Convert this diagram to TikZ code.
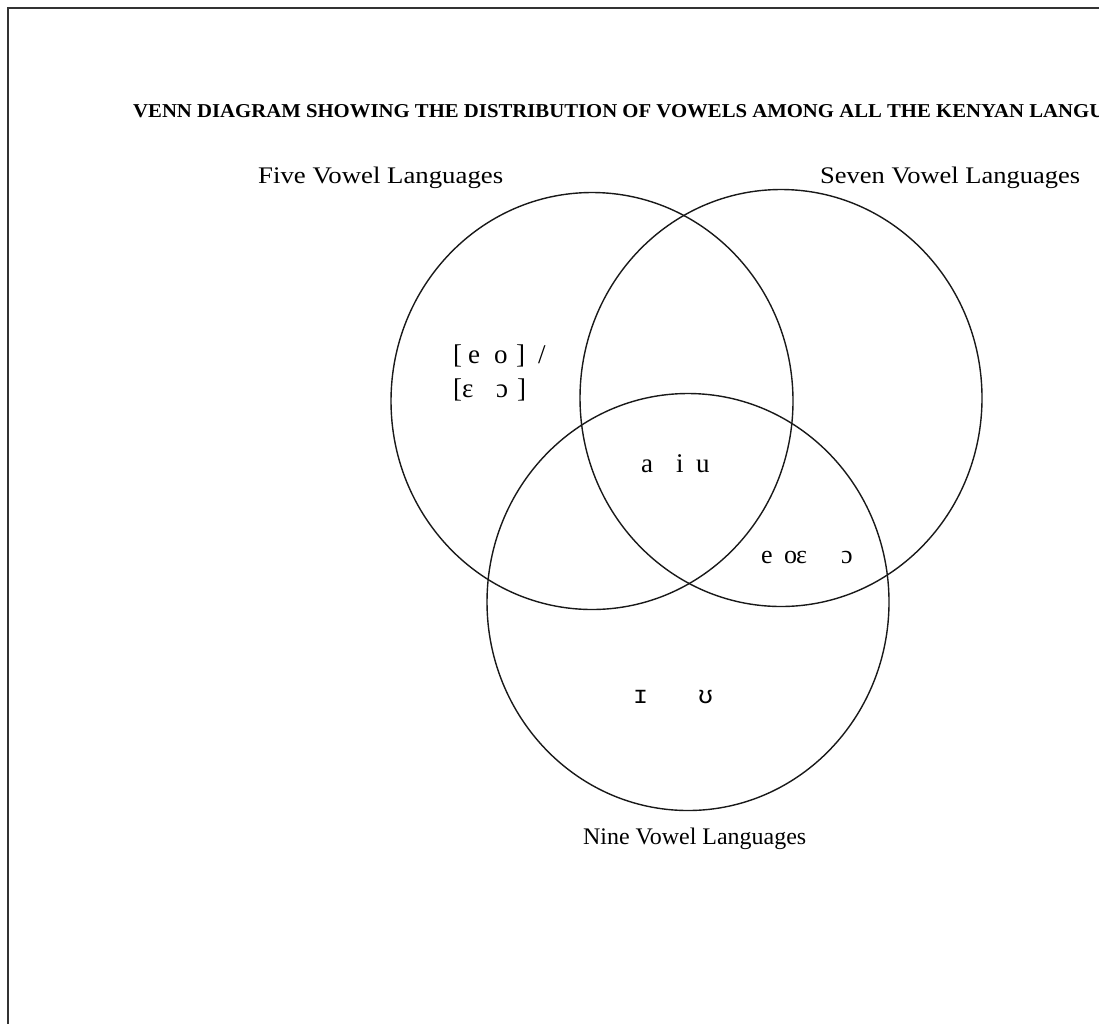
\documentclass[tikz,border=0pt]{standalone}
\usepackage{fontspec}
\setmainfont{Liberation Serif}
\newfontfamily\ipamono{Liberation Mono}
\usetikzlibrary{shapes.geometric}
\newcommand\gl[2]{\makebox[0pt][l]{\hspace{#1pt}#2}}
\begin{document}
\begin{tikzpicture}[x=1pt,y=-1pt,
  setc/.style={ellipse, draw=black!90, line width=1.4pt, inner sep=0pt,
               minimum width=402pt, minimum height=417pt},
  frame/.style={draw=black!80, line width=1.5pt},
  lbl/.style={anchor=base west, inner sep=0pt, text=black},
  ipa/.style={anchor=base west, inner sep=0pt, font=\fontsize{27pt}{29pt}\selectfont}]
\useasboundingbox (0,0) rectangle (1099,1023);
\clip (0,0) rectangle (1099,1023);
\fill[white] (0,0) rectangle (1099,1023);
\draw[frame] (8,1040) -- (8,8) -- (1120,8);

\node[lbl] (title) at (133,117)
  {\resizebox{971pt}{13pt}{\bfseries VENN DIAGRAM SHOWING THE DISTRIBUTION OF VOWELS AMONG ALL THE KENYAN LANGU}};

\node[setc] (five)  at (592,401) {};
\node[setc] (seven) at (781,398) {};
\node[setc] (nine)  at (688,602) {};

\node[lbl] (fiveL)  at (258,183) {\resizebox{245pt}{16.5pt}{Five Vowel Languages}};
\node[lbl] (sevenL) at (820,183) {\resizebox{260pt}{16.5pt}{Seven Vowel Languages}};
\node[lbl] (nineL)  at (583,844) {\resizebox{223pt}{16.5pt}{Nine Vowel Languages}};

\node[ipa] (fiveA) at (453,363) {\gl{0}{[}\gl{15}{e}\gl{41}{o}\gl{63}{]}\gl{85}{/}\phantom{[}};
\node[ipa] (fiveB) at (453,397) {\gl{0}{[}\gl{9}{ɛ}\gl{43}{ɔ}\gl{64}{]}\phantom{[}};
\node[ipa] (core)  at (641,472) {\gl{0}{a}\gl{35}{i}\gl{55}{u}\phantom{a}};
\node[ipa, font=\fontsize{26pt}{28pt}\selectfont] (sevnine) at (760,563)
  {\gl{1}{e}\gl{24}{o}\gl{36}{ɛ}\gl{81}{ɔ}\phantom{e}};
\node[ipa, font=\ipamono\fontsize{25pt}{27pt}\selectfont] (nineOnly) at (633,703)
  {\gl{0}{ɪ}\gl{65}{ʊ}\phantom{e}};
\end{tikzpicture}
\end{document}
